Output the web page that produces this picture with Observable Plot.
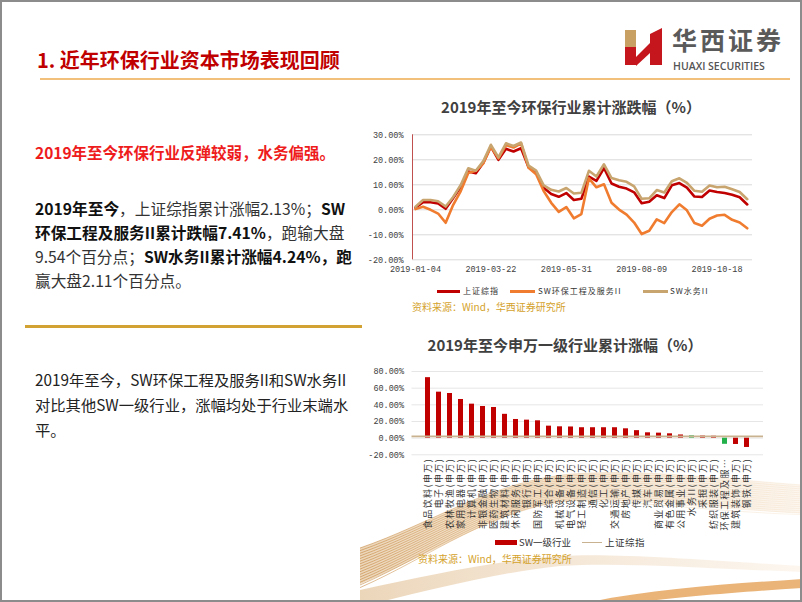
<!DOCTYPE html>
<html><head><meta charset="utf-8">
<script src="https://cdn.jsdelivr.net/npm/d3@7"></script>
<script src="https://cdn.jsdelivr.net/npm/@observablehq/plot@0.6"></script>
<style>
html,body{margin:0;padding:0;background:#fff;}
body{width:802px;height:602px;position:relative;overflow:hidden;font-family:"Noto Sans CJK SC","Noto Sans",sans-serif;}
#frame{position:absolute;left:0;top:0;width:802px;height:602px;box-sizing:border-box;border:2px solid #8c8c8c;pointer-events:none;z-index:20;}
.abs{position:absolute;white-space:nowrap;z-index:5;}
.b{font-weight:700;color:#111;}
.n{font-weight:400;color:#333;}
.ctitle{font-size:15px;font-weight:700;color:#404040;line-height:20px;transform:translateX(-50%);}
.src{font-size:10px;color:#d4a22c;line-height:14px;}
.lg{font-size:8px;letter-spacing:1px;color:#333;line-height:12px;}
.sw{position:absolute;z-index:5;}
#lineChart,#barChart{position:absolute;z-index:4;}
</style></head>
<body>
<div id="frame"></div>
<svg id="deco" width="802" height="602" style="position:absolute;left:0;top:0;z-index:0"></svg>

<div class="abs" style="left:37px;top:46px;font-size:20px;font-weight:700;color:#c00000;line-height:28px;">1. 近年环保行业资本市场表现回顾</div>
<div class="abs" style="left:40px;top:78px;width:750px;height:2px;background:#f2c07a;"></div>

<svg class="abs" style="left:620px;top:24px;" width="50" height="46" viewBox="620 24 50 46">
  <rect x="625" y="30" width="11" height="17" fill="#c9a063"/>
  <rect x="625" y="47" width="11" height="18" fill="#c4161c"/>
  <polygon points="636,57 650,43 650,53 636,66" fill="#c4161c"/>
  <polygon points="650,34 662,28 662,65 650,65" fill="#c4161c"/>
</svg>
<div class="abs" style="left:672px;top:27px;font-size:25px;font-weight:700;letter-spacing:3px;color:#5a5a5a;line-height:25px;">华西证券</div>
<div class="abs" style="left:673px;top:59.5px;font-family:'Open Sans',sans-serif;font-size:10.5px;font-weight:600;color:#555;line-height:12px;">HUAXI SECURITIES</div>

<div class="abs" style="left:35px;top:142px;font-size:15.5px;font-weight:700;color:#ee1c1c;line-height:21px;">2019年至今环保行业反弹较弱，水务偏强。</div>

<div class="abs" style="left:35px;top:197px;font-size:15.7px;line-height:24px;">
<span class="b">2019年至今</span><span class="n">，上证综指累计涨幅2.13%；</span><span class="b">SW</span><br>
<span class="b">环保工程及服务II累计跌幅7.41%</span><span class="n">，跑输大盘</span><br>
<span class="n">9.54个百分点；</span><span class="b">SW水务II累计涨幅4.24%，跑</span><br>
<span class="n">赢大盘2.11个百分点。</span>
</div>

<div class="abs" style="left:25px;top:325px;width:337px;height:2.5px;background:#d2a232;"></div>

<div class="abs" style="left:35px;top:367px;font-size:15.3px;line-height:25px;color:#222;">
2019年至今，SW环保工程及服务II和SW水务II<br>
对比其他SW一级行业，涨幅均处于行业末端水<br>
平。
</div>

<div class="abs ctitle" style="left:571px;top:97px;">2019年至今环保行业累计涨跌幅（%）</div>
<div id="lineChart" style="left:360px;top:120px;"></div>

<div class="sw" style="left:437px;top:289.5px;width:23px;height:3px;background:#c00000;"></div>
<div class="abs lg" style="left:463px;top:285px;">上证综指</div>
<div class="sw" style="left:510px;top:289.5px;width:25px;height:3px;background:#f07c30;"></div>
<div class="abs lg" style="left:538px;top:285px;">SW环保工程及服务II</div>
<div class="sw" style="left:643px;top:289.5px;width:25px;height:3px;background:#c8a46e;"></div>
<div class="abs lg" style="left:670px;top:285px;">SW水务II</div>

<div class="abs src" style="left:412px;top:300px;">资料来源：Wind，华西证券研究所</div>

<div class="abs ctitle" style="left:565px;top:335px;">2019年至今申万一级行业累计涨幅（%）</div>
<div id="barChart" style="left:360px;top:360px;"></div>

<div class="sw" style="left:495px;top:540px;width:22px;height:5px;background:#c00000;"></div>
<div class="abs" style="left:519px;top:536px;font-size:9.5px;color:#333;line-height:13px;">SW一级行业</div>
<div class="sw" style="left:582px;top:541.5px;width:20px;height:1.5px;background:#c9b28f;"></div>
<div class="abs" style="left:605px;top:536px;font-size:9.5px;letter-spacing:0.5px;color:#333;line-height:13px;">上证综指</div>

<div class="abs src" style="left:418px;top:552px;">资料来源：Wind，华西证券研究所</div>

<script>
// ---------- Line chart data (weekly, 2019) ----------
const weeks = ["2019-01-04","2019-01-11","2019-01-18","2019-01-25","2019-02-01","2019-02-15","2019-02-22","2019-03-01","2019-03-08","2019-03-15",
"2019-03-22","2019-03-29","2019-04-04","2019-04-12","2019-04-19","2019-04-26","2019-04-30","2019-05-10","2019-05-17","2019-05-24",
"2019-05-31","2019-06-06","2019-06-14","2019-06-21","2019-06-28","2019-07-05","2019-07-12","2019-07-19","2019-07-26","2019-08-02",
"2019-08-09","2019-08-16","2019-08-23","2019-08-30","2019-09-06","2019-09-12","2019-09-20","2019-09-27","2019-09-30","2019-10-11",
"2019-10-18","2019-10-25","2019-11-01","2019-11-08","2019-11-15"];
const weekTicks = ["2019-01-04","2019-03-22","2019-05-31","2019-08-09","2019-10-18"];
const seriesNames = ["上证综指","SW环保工程及服务II","SW水务II"];
const seriesColors = ["#c00000","#f07c30","#c8a46e"];
const szIndex = [0.8,3.0,3.0,2.5,0.4,4.7,9.2,15.3,14.6,18.8,25.3,20.0,24.4,23.3,24.6,17.0,15.0,8.8,6.3,5.2,6.7,3.9,4.4,13.3,11.6,16.7,10.5,9.2,8.5,7.0,2.6,3.2,5.8,4.7,9.8,10.7,8.9,5.3,5.1,7.7,7.1,6.7,6.0,5.0,2.13];
const envService = [0.3,1.2,0.0,-1.5,-5.2,2.0,7.5,14.7,15.6,18.6,25.2,20.6,25.9,24.9,26.6,16.8,14.2,7.5,2.8,-0.8,1.1,-3.4,-1.7,12.6,9.0,10.2,2.8,0.1,-1.9,-5.1,-9.7,-8.4,-3.8,-5.3,-0.9,2.2,-0.2,-5.3,-6.4,-3.6,-2.3,-2.0,-4.0,-5.1,-7.41];
const waterSvc = [1.2,3.9,3.9,3.4,1.3,5.1,9.9,16.6,15.6,19.5,26.0,21.0,26.6,25.5,26.9,17.7,15.7,9.8,8.0,7.3,8.7,6.5,6.8,15.6,13.3,18.2,12.7,11.8,11.2,9.4,4.4,4.6,7.9,6.9,11.4,12.6,10.8,7.6,7.2,9.7,9.0,9.2,8.2,7.1,4.24];
const lineYTicks = [-20,-10,0,10,20,30];

// ---------- Bar chart data ----------
const industries = ["食品饮料(申万)","电子(申万)","农林牧渔(申万)","家用电器(申万)","计算机(申万)","非银金融(申万)","医药生物(申万)","建筑材料(申万)","休闲服务(申万)","银行(申万)",
"国防军工(申万)","综合(申万)","机械设备(申万)","电气设备(申万)","轻工制造(申万)","通信(申万)","化工(申万)","交通运输(申万)","房地产(申万)","传媒(申万)",
"汽车(申万)","商业贸易(申万)","有色金属(申万)","公用事业(申万)","水务II(申万)","采掘(申万)","纺织服装(申万)","环保工程及服务II(申万)","建筑装饰(申万)","钢铁(申万)"];
const industryReturn = [72.6,55.2,53.6,46.4,40.8,38.0,36.8,28.6,22.4,21.6,20.8,14.4,13.6,13.4,12.5,12.5,12.5,12.5,11.2,9.0,6.4,6.0,5.2,3.8,2.8,2.5,2.3,-7.4,-7.6,-11.2];
const highlighted = ["水务II(申万)","环保工程及服务II(申万)"];
const szIndexYTD = 2.13;
const barYTicks = [-20,0,20,40,60,80];

const pct = d => d.toFixed(2) + "%";

// ---------- Line chart ----------
const lineRows = [];
weeks.forEach((w, i) => {
  lineRows.push({i, s: seriesNames[0], v: szIndex[i]});
  lineRows.push({i, s: seriesNames[1], v: envService[i]});
  lineRows.push({i, s: seriesNames[2], v: waterSvc[i]});
});
const xMin = -0.4, xMax = 44.7;
const lineChart = Plot.plot({
  width: 410, height: 160,
  marginLeft: 52, marginRight: 18, marginTop: 14.3, marginBottom: 20.7,
  style: {background: "transparent", fontFamily: "'Liberation Mono', monospace", fontSize: "8.5px", color: "#404040", overflow: "visible"},
  x: {type: "linear", domain: [xMin, xMax]},
  y: {domain: [-20, 30]},
  color: {domain: seriesNames, range: seriesColors},
  marks: [
    Plot.gridY(lineYTicks, {stroke: "#d9d9d9", strokeOpacity: 1, strokeWidth: 1}),
    Plot.ruleX([xMin], {stroke: "#c0504d", strokeWidth: 1}),
    Plot.axisY(lineYTicks, {tickSize: 0, tickPadding: 9, tickFormat: pct, label: null}),
    Plot.axisX(weekTicks.map(d => weeks.indexOf(d)), {tickSize: 0, tickPadding: 6, tickFormat: i => weeks[i], label: null}),
    Plot.line(lineRows, {x: "i", y: "v", z: "s", stroke: "s", strokeWidth: 2.6, curve: "linear"})
  ]
});
document.getElementById("lineChart").appendChild(lineChart);

// ---------- Bar chart ----------
const barRows = industries.map((name, k) => ({name, v: industryReturn[k], hl: highlighted.includes(name)}));
const shortLabel = s => s.length > 10 ? s.slice(0, 6) + "…" : s;
const barChart = Plot.plot({
  width: 410, height: 175,
  marginLeft: 51.5, marginRight: 7, marginTop: 11, marginBottom: 80.7,
  style: {background: "transparent", fontFamily: "'Liberation Mono', monospace", fontSize: "8.5px", color: "#404040", overflow: "visible"},
  x: {type: "band", domain: industries, padding: 0.55},
  y: {domain: [-20, 80]},
  marks: [
    Plot.gridY(barYTicks, {stroke: "#e6e6e6", strokeOpacity: 1, strokeWidth: 1}),
    Plot.barY(barRows, {filter: d => !d.hl, x: "name", y: "v", fill: "#c00000"}),
    Plot.barY(barRows, {filter: d => d.hl, x: "name", y: "v", fill: "#22b04a"}),
    Plot.ruleY([szIndexYTD], {stroke: "#c9b28f", strokeWidth: 1.6}),
    Plot.axisY(barYTicks, {tickSize: 0, tickPadding: 8, tickFormat: pct, label: null}),
    Plot.axisX({tickRotate: -90, tickSize: 0, tickPadding: 3, tickFormat: shortLabel, label: null,
      fontFamily: "'Noto Sans CJK SC', sans-serif", fontSize: 9, fill: "#333"})
  ]
});
barChart.querySelectorAll('g[aria-label="x-axis tick label"] text').forEach(t => { t.style.letterSpacing = "1.4px"; });
document.getElementById("barChart").appendChild(barChart);

// ---------- decorative ribbon (background only) ----------
const deco = document.getElementById("deco");
const ns = "http://www.w3.org/2000/svg";
deco.innerHTML = `<defs>
 <linearGradient id="g1" x1="360" x2="802" y1="0" y2="0" gradientUnits="userSpaceOnUse">
  <stop offset="0" stop-color="#b8701a" stop-opacity="0.85"/>
  <stop offset="0.45" stop-color="#dca055" stop-opacity="0.55"/>
  <stop offset="1" stop-color="#f1d6b4" stop-opacity="0.45"/>
 </linearGradient>
 <linearGradient id="g2" x1="360" x2="802" y1="0" y2="0" gradientUnits="userSpaceOnUse">
  <stop offset="0" stop-color="#c98a3a" stop-opacity="0.35"/>
  <stop offset="1" stop-color="#f3dcc0" stop-opacity="0.25"/>
 </linearGradient>
</defs>`;
function addPath(d, attrs) {
  const p = document.createElementNS(ns, "path");
  p.setAttribute("d", d);
  for (const k in attrs) p.setAttribute(k, attrs[k]);
  deco.appendChild(p);
}
addPath("M360,548 C430,524 495,480 572,474 C650,469 720,479 802,485 L802,514 C720,508 650,498 580,500 C505,504 430,556 360,584 Z", {fill: "url(#g2)"});
for (let k = 0; k < 16; k++) {
  const o = k * 2.2;
  addPath(`M360,${548 + o * 1.2} C430,${524 + o} 495,${480 + o * 0.8} 572,${474 + o * 0.8} C650,${469 + o} 720,${479 + o} 802,${485 + o * 0.9}`,
    {fill: "none", stroke: "url(#g1)", "stroke-width": 0.7, opacity: 0.8});
}
addPath("M360,590 C430,575 500,560 560,556 C620,553 700,560 802,566 L802,572 C700,568 620,562 560,566 C500,572 430,590 380,602 L360,602 Z", {fill: "url(#g2)"});
addPath("M590,602 C660,588 730,584 802,579 L802,588 C740,592 680,597 640,602 Z", {fill: "#e39a4a", opacity: 0.75});
</script>
</body></html>
